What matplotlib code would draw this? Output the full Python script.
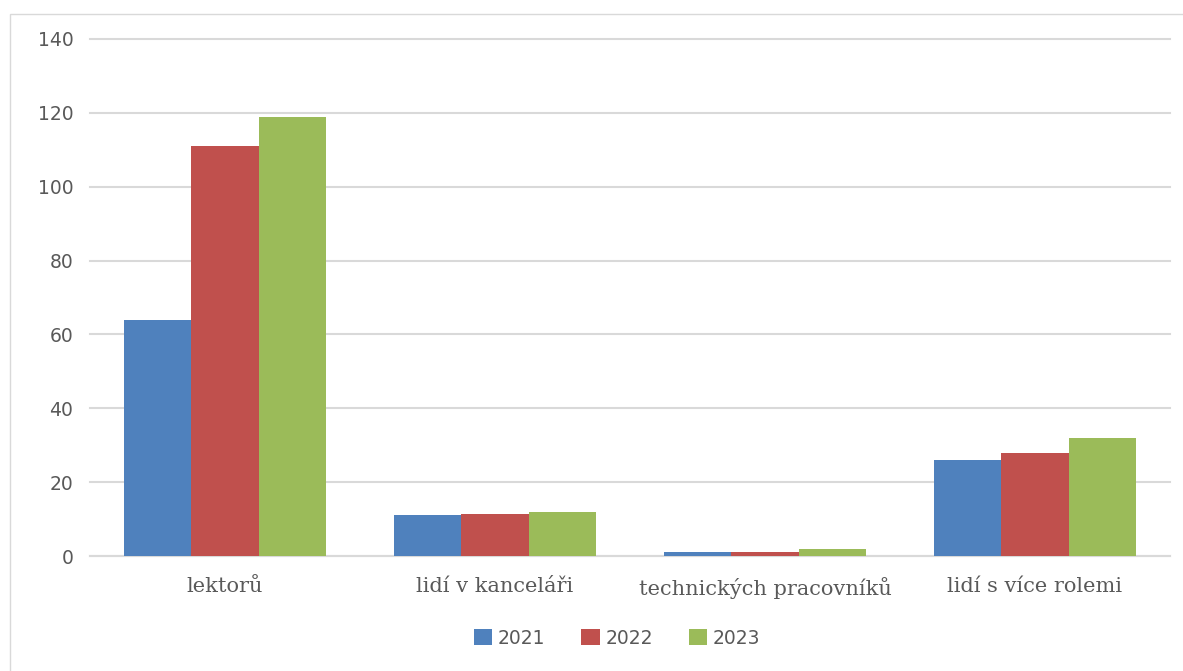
import numpy as np
import matplotlib.pyplot as plt
from matplotlib.patches import Rectangle

# data
categories = ['lektorů', 'lidí v kanceláři', 'technických pracovníků', 'lidí s více rolemi']
years = ['2021', '2022', '2023']
v2021 = [64, 11, 1, 26]
v2022 = [111, 11.5, 1, 28]
v2023 = [119, 12, 2, 32]

colors = ['#4F81BD', '#C0504D', '#9BBB59']
series = [v2021, v2022, v2023]

fig = plt.figure(figsize=(11.83, 6.71), dpi=100)
ax = fig.add_axes([90/1183, 1-556/671, 1080/1183, 517/671])

x = np.arange(len(categories))
w = 0.25
for i, vals in enumerate(series):
    ax.bar(x + (i-1)*w, vals, width=w, color=colors[i], label=years[i], zorder=3)

ax.set_xlim(-0.5, len(categories)-0.5)
ax.set_ylim(0, 140)
ax.set_yticks(range(0, 141, 20))
ax.grid(axis='y', color='#D9D9D9', linewidth=1.5, zorder=0)
for gl in ax.get_ygridlines():
    gl.set_clip_on(False)
for s in ['top', 'right', 'left']:
    ax.spines[s].set_visible(False)
ax.spines['bottom'].set_color('#D9D9D9')
ax.spines['bottom'].set_linewidth(1.5)
ax.tick_params(axis='both', length=0, colors='#595959')
ax.tick_params(axis='y', labelsize=13.5, pad=12)
ax.set_xticks(x)
ax.set_xticklabels(categories, family='DejaVu Serif', fontsize=15)
ax.tick_params(axis='x', pad=15)

leg = fig.legend(loc='center', bbox_to_anchor=(617/1183, 1-638/671), ncol=3, frameon=False,
                 fontsize=13.5, handlelength=1.0, handleheight=1.0, columnspacing=1.9, handletextpad=0.3)
for t in leg.get_texts():
    t.set_color('#595959')

# chart frame
fig.patches.append(Rectangle((10/1183, -0.05), 1.2, 1-14/671+0.05, transform=fig.transFigure,
                             fill=False, edgecolor='#D9D9D9', linewidth=1))

fig.savefig('out.png', dpi=100)
